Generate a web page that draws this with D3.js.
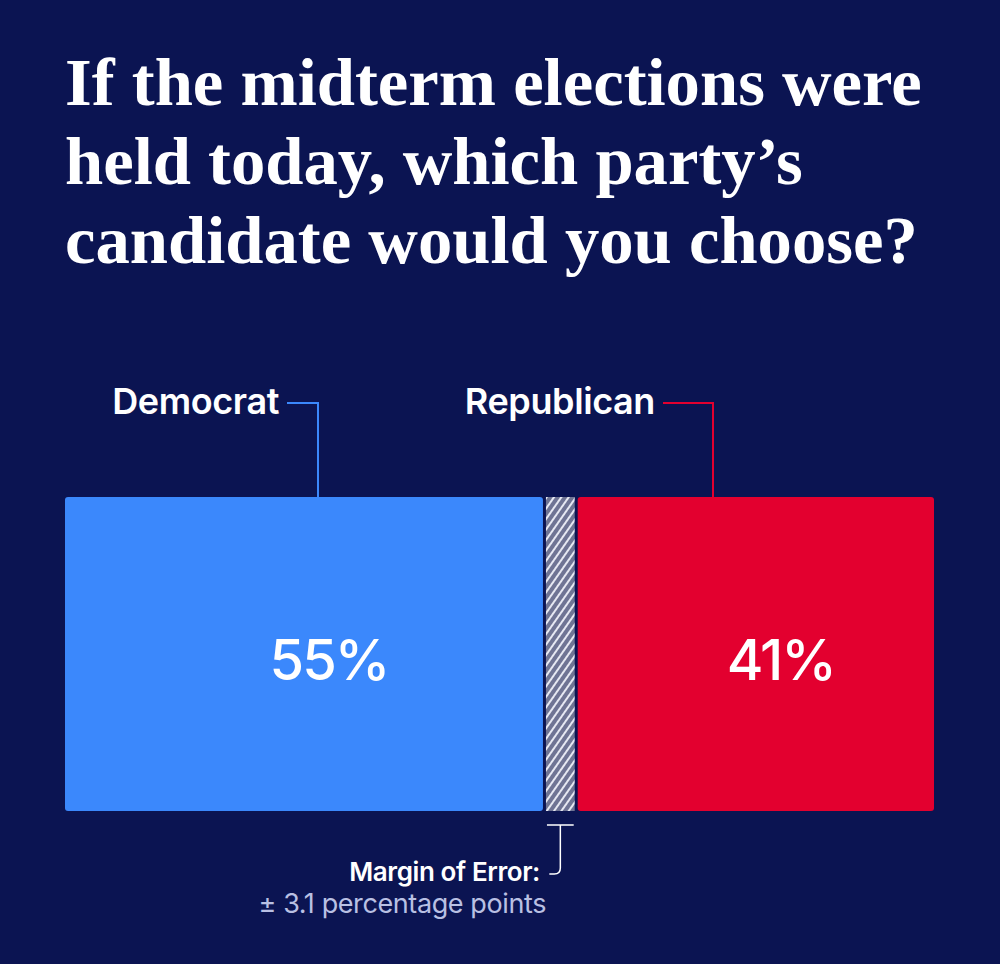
<!DOCTYPE html>
<html>
  <head>
    <meta charset="utf-8">
    <script src="https://d3js.org/d3.v7.min.js"></script>
    <style>
      body { margin: 0; background: #0b1452; }
    </style>
  </head>
  <body>
    <div id="chart"></div>
    <script>
      var width = 1000;
      var height = 964;

      // data
      var titleLines = ["If the midterm elections were", "held today, which party\u2019s", "candidate would you choose?"];
      var parties = ["Democrat", "Republican"];
      var shares = [55, 41];
      var marginOfError = 3.1;
      var moeLabel = "Margin of Error:";
      var moeText = "\u00b1 3.1 percentage points";

      var colors = { Democrat: "#3b88fc", Republican: "#e3002f" };

      var x = d3.scaleLinear().domain([0, 100]).range([65, 934]);
      var barTop = 497, barBottom = 811;

      var svg = d3.select("#chart").append("svg")
        .attr("width", width)
        .attr("height", height);

      svg.append("rect").attr("width", width).attr("height", height).attr("fill", "#0b1452");

      // hatch pattern for the margin of error band
      var pat = svg.append("defs").append("pattern")
        .attr("id", "hatch")
        .attr("patternUnits", "userSpaceOnUse")
        .attr("width", 6).attr("height", 6)
        .attr("patternTransform", "rotate(35)");
      pat.append("rect").attr("width", 6).attr("height", 6).attr("fill", "#6f7494");
      pat.append("rect").attr("width", 2).attr("height", 6).attr("fill", "#e6e8f2");

      // title, sized so the first line fills the width
      var title = svg.append("text")
        .attr("font-family", "'Liberation Serif', serif")
        .attr("font-weight", "bold")
        .attr("font-size", 60)
        .attr("fill", "#ffffff");
      title.selectAll("tspan")
        .data(titleLines)
        .enter().append("tspan")
        .attr("x", 65)
        .attr("y", function(d, i) { return 105 + i * 79; })
        .text(function(d) { return d; });
      var w0 = title.select("tspan").node().getComputedTextLength();
      title.attr("font-size", 60 * 857 / w0);

      // bars: democrat from 0, republican ending at 100
      var segs = [
        { party: "Democrat", x0: 0, x1: shares[0] },
        { party: "Republican", x0: 100 - shares[1], x1: 100 }
      ];

      svg.selectAll(".bar")
        .data(segs)
        .enter().append("rect")
        .attr("class", "bar")
        .attr("x", function(d) { return x(d.x0); })
        .attr("y", barTop)
        .attr("width", function(d) { return x(d.x1) - x(d.x0); })
        .attr("height", barBottom - barTop)
        .attr("rx", 3)
        .attr("fill", function(d) { return colors[d.party]; });

      // margin band in the gap
      svg.append("rect")
        .attr("x", x(shares[0]) + 3)
        .attr("y", barTop)
        .attr("width", x(100 - shares[1]) - x(shares[0]) - 6)
        .attr("height", barBottom - barTop)
        .attr("fill", "url(#hatch)");

      // value labels
      svg.selectAll(".val")
        .data(segs)
        .enter().append("text")
        .attr("class", "val")
        .attr("x", function(d) { return (x(d.x0) + x(d.x1)) / 2 + 25; })
        .attr("y", 680)
        .attr("text-anchor", "middle")
        .attr("font-family", "Inter, 'Liberation Sans', sans-serif")
        .attr("font-weight", 500)
        .attr("font-size", 56)
        .attr("letter-spacing", "-2")
        .attr("fill", "#ffffff")
        .text(function(d, i) { return shares[i] + "%"; });

      // party labels with connectors
      var labels = [
        { party: "Democrat", tx: 279, lx: 318 },
        { party: "Republican", tx: 655, lx: 713 }
      ];

      svg.selectAll(".lab")
        .data(labels)
        .enter().append("text")
        .attr("class", "lab")
        .attr("x", function(d) { return d.tx; })
        .attr("y", 414)
        .attr("text-anchor", "end")
        .attr("font-family", "Inter, 'Liberation Sans', sans-serif")
        .attr("font-weight", 600)
        .attr("font-size", 36)
        .attr("letter-spacing", "-0.4")
        .attr("fill", "#ffffff")
        .text(function(d) { return d.party; });

      svg.selectAll(".conn")
        .data(labels)
        .enter().append("path")
        .attr("class", "conn")
        .attr("d", function(d) {
          return "M" + (d.tx + 8) + ",403H" + d.lx + "V" + barTop;
        })
        .attr("fill", "none")
        .attr("stroke", function(d) { return colors[d.party]; })
        .attr("stroke-width", 2);

      // margin of error bracket
      var mx0 = x(shares[0]) + 4, mx1 = x(100 - shares[1]) - 4;
      var mxc = (mx0 + mx1) / 2;
      svg.append("path")
        .attr("d", "M" + mx0 + ",825H" + mx1 + "M" + mxc + ",825V868Q" + mxc + ",874 " + (mxc - 6) + ",874H" + (mxc - 11))
        .attr("fill", "none")
        .attr("stroke", "#ffffff")
        .attr("stroke-width", 1.5);

      svg.append("text")
        .attr("x", 540)
        .attr("y", 881)
        .attr("text-anchor", "end")
        .attr("font-family", "Inter, 'Liberation Sans', sans-serif")
        .attr("font-weight", 600)
        .attr("font-size", 26)
        .attr("letter-spacing", "-0.4")
        .attr("fill", "#ffffff")
        .text(moeLabel);

      svg.append("text")
        .attr("x", 546)
        .attr("y", 913)
        .attr("text-anchor", "end")
        .attr("font-family", "Inter, 'Liberation Sans', sans-serif")
        .attr("font-weight", 400)
        .attr("font-size", 27)
        .attr("letter-spacing", "-0.4")
        .attr("fill", "#b9c0e3")
        .text(moeText);
    </script>
  </body>
</html>
